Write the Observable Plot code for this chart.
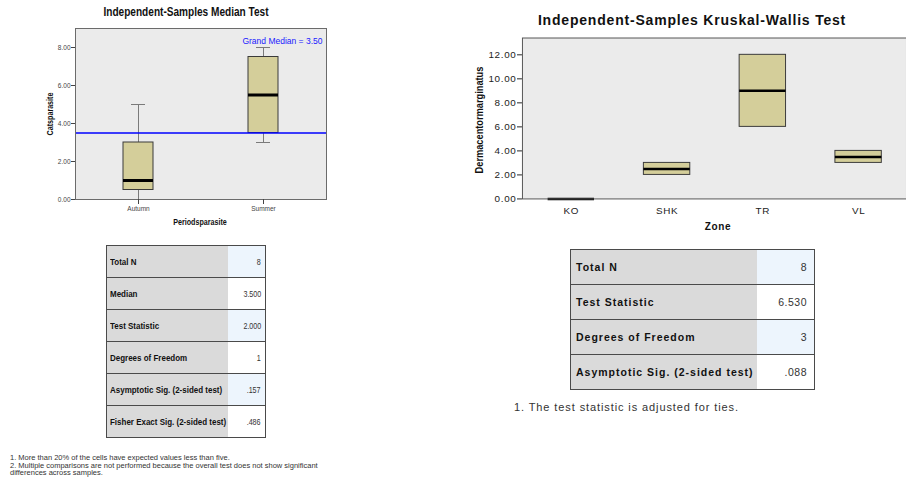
<!DOCTYPE html>
<html>
<head>
<meta charset="utf-8">
<script src="https://cdn.jsdelivr.net/npm/d3@7"></script>
<script src="https://cdn.jsdelivr.net/npm/@observablehq/plot@0.6"></script>
<style>
  html, body { margin: 0; padding: 0; background: #fff; overflow: hidden; }
  #root { position: relative; width: 906px; height: 488px; overflow: hidden; background: #fff; }
  .abs { position: absolute; white-space: nowrap; }
  .narrow { font-family: "Liberation Sans Narrow", "Arial Narrow", "Liberation Sans", Arial, sans-serif; }
  .sans { font-family: "Liberation Sans", Arial, sans-serif; }
  .centerN { transform: translate(-50%, -50%) scaleX(0.84); }
  .center { transform: translate(-50%, -50%); }
  .vertN { transform: translate(-50%, -50%) rotate(-90deg) scaleX(0.84); }
  table { border-collapse: collapse; table-layout: fixed; }
  td { padding: 0; border-top: 1px solid #4a4a4a; border-bottom: 1px solid #4a4a4a; overflow: visible; white-space: nowrap; }
  td.lab { background: #dadada; font-weight: bold; color: #111; }
  td.val { text-align: right; color: #333; }
  td.blue { background: #edf5fd; }
  td.white { background: #ffffff; }
  .sq { display: inline-block; transform: scaleX(0.84); }
  .sqL { transform-origin: left center; }
  .sqR { transform-origin: right center; }
  #wrapR { position: absolute; left: 440px; top: 0px; width: 466px; height: 240px; overflow: hidden; }
  #noteL div { height: 7.7px; line-height: 7.7px; }
</style>
</head>
<body>
<div id="root">
  <div id="plotL" class="abs" style="left:0;top:0;"></div>
  <div id="wrapR"><div id="plotR"></div></div>

  <div class="abs narrow centerN" style="left:186px;top:12px;font-size:12px;font-weight:bold;color:#111;">Independent-Samples Median Test</div>
  <div class="abs narrow vertN" style="left:50px;top:114px;font-size:8.5px;font-weight:bold;color:#111;">Catsparasite</div>
  <div class="abs narrow centerN" style="left:200px;top:222px;font-size:8.5px;font-weight:bold;color:#111;">Periodsparasite</div>

  <div class="abs sans center" style="left:692px;top:20px;font-size:14px;font-weight:bold;color:#111;letter-spacing:0.8px;">Independent-Samples Kruskal-Wallis Test</div>
  <div class="abs narrow vertN" style="left:479px;top:120px;font-size:11px;font-weight:bold;color:#111;">Dermacentormarginatus</div>
  <div class="abs sans center" style="left:718px;top:226px;font-size:10px;font-weight:bold;color:#111;letter-spacing:0.6px;">Zone</div>

  <div id="tabL" class="abs narrow" style="left:106px;top:245px;"></div>
  <div id="tabR" class="abs sans" style="left:570px;top:249px;"></div>

  <div id="noteL" class="abs narrow" style="left:10px;top:454px;font-size:7.5px;color:#333;"></div>
  <div id="noteR" class="abs sans" style="left:514px;top:401px;font-size:11px;color:#333;letter-spacing:0.9px;"></div>
</div>
<script>
// ---- Median test (left) ----
const periods = ["Autumn", "Summer"];
const catMin = [0, 3];
const catQ1 = [0.5, 3.5];
const catMedian = [1, 5.5];
const catQ3 = [3, 7.5];
const catMax = [5, 8];
const grandMedian = 3.5;
const catTicks = [0, 2, 4, 6, 8];

// ---- Kruskal-Wallis (right) ----
const zones = ["KO", "SHK", "TR", "VL"];
const zoneQ1 = [0, 2, 6, 3];
const zoneMedian = [0, 2.5, 9, 3.5];
const zoneQ3 = [0, 3, 12, 4];
const zoneTicks = [0, 2, 4, 6, 8, 10, 12];

// ---- tables ----
const medianLabels = ["Total N", "Median", "Test Statistic", "Degrees of Freedom", "Asymptotic Sig. (2-sided test)", "Fisher Exact Sig. (2-sided test)"];
const medianValues = ["8", "3.500", "2.000", "1", ".157", ".486"];
const kwLabels = ["Total N", "Test Statistic", "Degrees of Freedom", "Asymptotic Sig. (2-sided test)"];
const kwValues = ["8", "6.530", "3", ".088"];

const notesL = ["1.  More than 20% of the cells have expected values less than five.",
  "2.  Multiple comparisons are not performed because the overall test does not show significant",
  "differences across samples."];
const notesR = ["1.  The test statistic is adjusted for ties."];

const fmt2 = d3.format(".2f");
const narrowFont = '"Liberation Sans Narrow", "Arial Narrow", "Liberation Sans", Arial, sans-serif';

const left = periods.map((p, i) => ({p, min: catMin[i], q1: catQ1[i], med: catMedian[i], q3: catQ3[i], max: catMax[i]}));

const plotL = Plot.plot({
  width: 360, height: 235,
  marginLeft: 75, marginTop: 28, marginRight: 34, marginBottom: 36,
  style: {fontFamily: narrowFont, fontSize: "6.5px", color: "#333", background: "transparent"},
  x: {domain: periods, paddingInner: 0.761, paddingOuter: 0.3805, axis: null, label: null},
  y: {domain: [0, 9], axis: null, label: null},
  marks: [
    Plot.frame({fill: "#ebebeb", stroke: "none"}),
    Plot.ruleX(left, {x: "p", y1: "min", y2: "max", stroke: "#7a7a7a", strokeWidth: 1}),
    Plot.tickY(left, {x: "p", y: "max", stroke: "#7a7a7a", insetLeft: 8, insetRight: 8}),
    Plot.tickY(left, {x: "p", y: "min", stroke: "#7a7a7a", insetLeft: 8, insetRight: 8}),
    Plot.barY(left, {x: "p", y1: "q1", y2: "q3", fill: "#d4ce9a", stroke: "#3a3a3a", strokeWidth: 1}),
    Plot.tickY(left, {x: "p", y: "med", stroke: "#000", strokeWidth: 3}),
    Plot.ruleY([grandMedian], {stroke: "#0000ff", strokeWidth: 1.5}),
    Plot.frame({stroke: "#6b6b6b", strokeWidth: 1}),
    Plot.axisY({ticks: catTicks, tickFormat: fmt2, tickSize: 4, tickPadding: 1, label: null, color: "#444", fontSize: 6.5}),
    Plot.axisX({tickSize: 5, tickPadding: 2, label: null, color: "#444", fontSize: 6.5}),
    Plot.text(["Grand Median = 3.50"], {frameAnchor: "top-right", dx: -4, dy: 9, fill: "#2020ff", fontSize: 8.5, fontFamily: narrowFont})
  ]
});
document.getElementById("plotL").appendChild(plotL);

const right = zones.map((z, i) => ({z, q1: zoneQ1[i], med: zoneMedian[i], q3: zoneQ3[i]}));
const plotR = Plot.plot({
  width: 472, height: 235,
  marginLeft: 83, marginTop: 38, marginRight: 0, marginBottom: 34,
  style: {fontFamily: '"Liberation Sans", Arial, sans-serif', fontSize: "10px", color: "#222", background: "transparent", letterSpacing: "0.7px"},
  x: {domain: zones, paddingInner: 0.517, paddingOuter: 0.2585, axis: null, label: null},
  y: {domain: [0, 13.4], axis: null, label: null},
  marks: [
    Plot.frame({fill: "#ebebeb", stroke: "none"}),
    Plot.barY(right, {x: "z", y1: "q1", y2: "q3", fill: "#d4ce9a", stroke: "#3a3a3a", strokeWidth: 1}),
    Plot.tickY(right, {x: "z", y: "med", stroke: "#000", strokeWidth: 2.5}),
    Plot.frame({stroke: "#555", strokeWidth: 1}),
    Plot.axisY({ticks: zoneTicks, tickFormat: fmt2, tickSize: 5, tickPadding: 1, label: null, color: "#222", fontSize: 10}),
    Plot.axisX({tickSize: 0, tickPadding: 8, label: null, color: "#222", fontSize: 10})
  ]
});
document.getElementById("plotR").appendChild(plotR);

function makeTable(el, labels, values, opts) {
  const t = document.createElement("table");
  t.style.border = "1px solid #4a4a4a";
  t.style.width = opts.width + "px";
  labels.forEach((lab, i) => {
    const tr = document.createElement("tr");
    tr.style.height = opts.rowH + "px";
    const a = document.createElement("td");
    a.className = "lab";
    a.style.width = opts.labW + "px";
    a.style.paddingLeft = opts.padL + "px";
    a.style.fontSize = opts.labFont + "px";
    if (opts.letter) a.style.letterSpacing = opts.letter + "px";
    const sa = document.createElement("span");
    if (opts.squeeze) sa.className = "sq sqL";
    sa.textContent = lab;
    a.appendChild(sa);
    const b = document.createElement("td");
    b.className = "val " + (opts.blue[i] ? "blue" : "white");
    b.style.paddingRight = opts.padR + "px";
    b.style.fontSize = opts.valFont + "px";
    if (opts.valLetter) b.style.letterSpacing = opts.valLetter + "px";
    const sb = document.createElement("span");
    if (opts.squeeze) sb.className = "sq sqR";
    sb.textContent = values[i];
    b.appendChild(sb);
    tr.appendChild(a); tr.appendChild(b);
    t.appendChild(tr);
  });
  el.appendChild(t);
}
makeTable(document.getElementById("tabL"), medianLabels, medianValues,
  {width: 160, labW: 118, rowH: 32, padL: 3, padR: 4, labFont: 9.5, valFont: 8.5, squeeze: true, blue: [1, 0, 1, 0, 1, 0]});
makeTable(document.getElementById("tabR"), kwLabels, kwValues,
  {width: 245, labW: 181, rowH: 35, padL: 5, padR: 7, labFont: 10.5, valFont: 10.5, letter: 1, valLetter: 0.5, squeeze: false, blue: [1, 0, 1, 0]});

document.getElementById("noteL").innerHTML = notesL.map(s => `<div>${s}</div>`).join("");
document.getElementById("noteR").textContent = notesR[0];
</script>
</body>
</html>
